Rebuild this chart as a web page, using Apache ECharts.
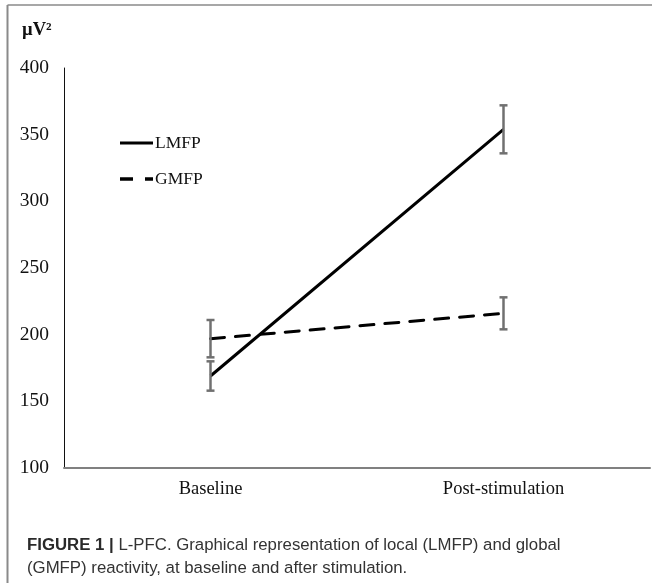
<!DOCTYPE html>
<html>
<head>
<meta charset="utf-8">
<script src="https://cdn.jsdelivr.net/npm/echarts@6/dist/echarts.min.js"></script>
<style>
html,body{margin:0;padding:0;background:#fff;}
#chart{width:652px;height:583px;}
</style>
</head>
<body>
<div id="chart"></div>
<script>
// ---- data ----
const categories = ['Baseline', 'Post-stimulation'];
const lmfpMean = [169, 354];
const lmfpErr = [11, 18];
const gmfpMean = [197, 216];
const gmfpErr = [14, 12];
const seriesNames = ['LMFP', 'GMFP'];
const yTicks = { min: 100, max: 400, interval: 50 };
const unitLabel = 'µV²';
const captionBold = 'FIGURE 1 |';
const captionLine1 = ' L-PFC. Graphical representation of local (LMFP) and global';
const captionLine2 = '(GMFP) reactivity, at baseline and after stimulation.';

const serif = '"Liberation Serif", "Times New Roman", serif';
const sans = '"Liberation Sans", Arial, sans-serif';

function errData(mean, err) {
  return mean.map((m, i) => [i, m - err[i], m + err[i]]);
}

function renderErr(params, api) {
  const x = api.value(0);
  const lo = api.coord([x, api.value(1)]);
  const hi = api.coord([x, api.value(2)]);
  const cap = 4;
  const style = { stroke: '#707070', lineWidth: 2.5 };
  return {
    type: 'group',
    children: [
      { type: 'line', shape: { x1: lo[0], y1: lo[1], x2: hi[0], y2: hi[1] }, style: style },
      { type: 'line', shape: { x1: lo[0] - cap, y1: lo[1], x2: lo[0] + cap, y2: lo[1] }, style: style },
      { type: 'line', shape: { x1: hi[0] - cap, y1: hi[1], x2: hi[0] + cap, y2: hi[1] }, style: style }
    ]
  };
}

const legendFont = '17.5px ' + serif;

const chart = echarts.init(document.getElementById('chart'), null, { renderer: 'canvas' });
chart.setOption({
  backgroundColor: '#fff',
  animation: false,
  grid: { left: 64, right: 2, top: 68, bottom: 115, containLabel: false },
  xAxis: {
    type: 'category',
    data: categories,
    boundaryGap: true,
    axisLine: { show: true, lineStyle: { color: '#808080', width: 2 } },
    axisTick: { show: false },
    axisLabel: { color: '#111', fontFamily: serif, fontSize: 18.5, margin: 12 },
    splitLine: { show: false }
  },
  yAxis: {
    type: 'value',
    min: yTicks.min, max: yTicks.max, interval: yTicks.interval,
    axisLine: { show: true, lineStyle: { color: '#111', width: 1 } },
    axisTick: { show: false },
    splitLine: { show: false },
    axisLabel: { color: '#111', fontFamily: serif, fontSize: 19.5, margin: 15 }
  },
  series: [
    {
      name: seriesNames[0], type: 'line', data: lmfpMean, symbol: 'none',
      lineStyle: { color: '#000', width: 3 }, itemStyle: { color: '#000' }, z: 3
    },
    {
      name: seriesNames[1], type: 'line', data: gmfpMean, symbol: 'none',
      lineStyle: { color: '#000', width: 3, type: [14, 11], cap: 'round' }, itemStyle: { color: '#000' }, z: 3
    },
    { type: 'custom', renderItem: renderErr, data: errData(lmfpMean, lmfpErr), z: 4, silent: true },
    { type: 'custom', renderItem: renderErr, data: errData(gmfpMean, gmfpErr), z: 4, silent: true }
  ],
  graphic: [
    { type: 'line', shape: { x1: 7.5, y1: 5, x2: 652, y2: 5 }, style: { stroke: '#8a8a8a', lineWidth: 1.5 } },
    { type: 'line', shape: { x1: 7.5, y1: 5, x2: 7.5, y2: 583 }, style: { stroke: '#8a8a8a', lineWidth: 2 } },
    { type: 'text', left: 22, top: 21, style: { text: unitLabel, font: 'bold 18.5px ' + serif, fill: '#111' } },
    // legend
    { type: 'line', shape: { x1: 120, y1: 143, x2: 153, y2: 143 }, style: { stroke: '#000', lineWidth: 3 } },
    { type: 'text', x: 155, y: 143, style: { text: seriesNames[0], font: legendFont, fill: '#111', verticalAlign: 'middle' } },
    { type: 'line', shape: { x1: 120, y1: 179, x2: 133, y2: 179 }, style: { stroke: '#000', lineWidth: 3.5 } },
    { type: 'line', shape: { x1: 145, y1: 179, x2: 153, y2: 179 }, style: { stroke: '#000', lineWidth: 3.5 } },
    { type: 'text', x: 155, y: 179, style: { text: seriesNames[1], font: legendFont, fill: '#111', verticalAlign: 'middle' } },
    {
      type: 'text', left: 27, top: 537,
      style: {
        text: '{b|' + captionBold + '}{r|' + captionLine1 + '}\n{r|' + captionLine2 + '}',
        rich: {
          b: { font: 'bold 16.8px ' + sans, fill: '#2a2a2a', lineHeight: 23 },
          r: { font: '16.8px ' + sans, fill: '#333', lineHeight: 23 }
        }
      }
    }
  ]
});
</script>
</body>
</html>
